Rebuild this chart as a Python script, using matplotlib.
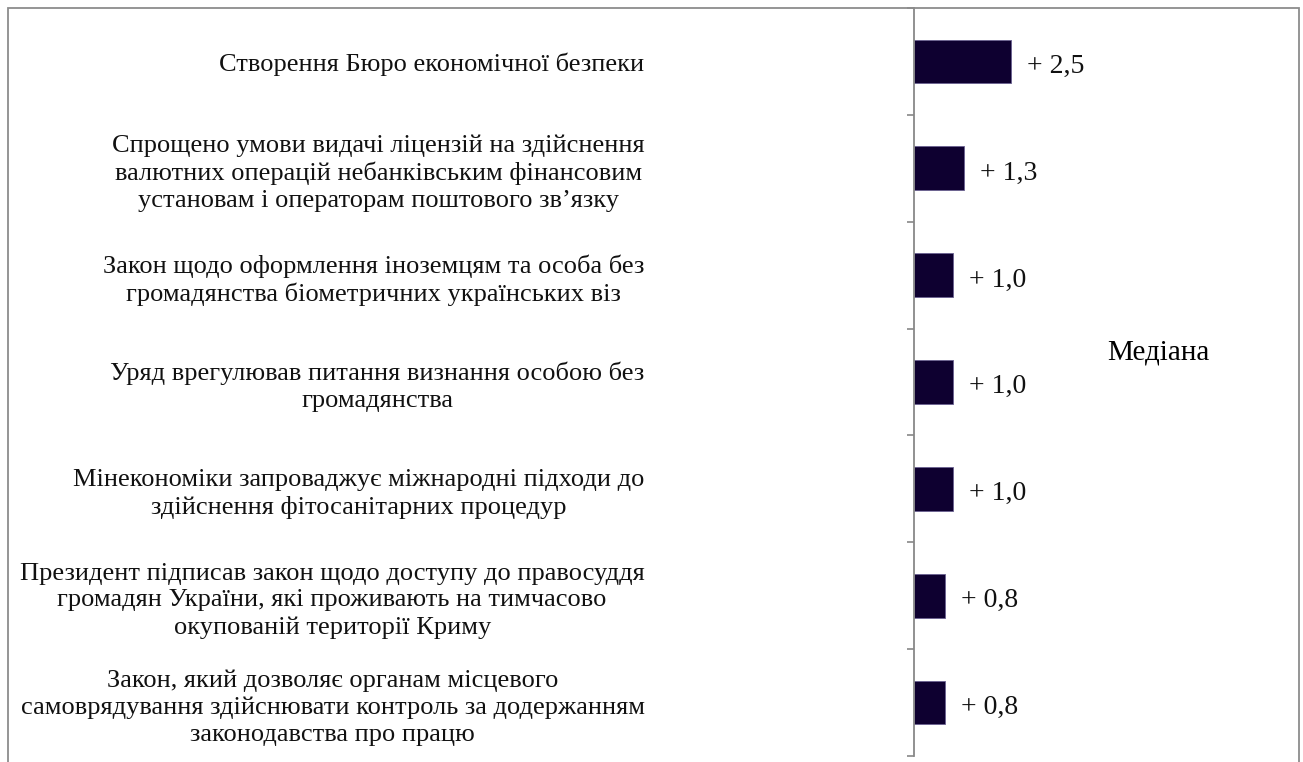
import matplotlib
matplotlib.use("Agg")
import matplotlib.pyplot as plt
from matplotlib.patches import Rectangle
from matplotlib.ticker import FixedLocator
import numpy as np

categories = [
    "Створення Бюро економічної безпеки",
    "Спрощено умови видачі ліцензій на здійснення\nвалютних операцій небанківським фінансовим\nустановам і операторам поштового зв\u2019язку",
    "Закон щодо оформлення іноземцям та особа без\nгромадянства біометричних українських віз",
    "Уряд врегулював питання визнання особою без\nгромадянства",
    "Мінекономіки запроваджує міжнародні підходи до\nздійснення фітосанітарних процедур",
    "Президент підписав закон щодо доступу до правосуддя\nгромадян України, які проживають на тимчасово\nокупованій території Криму",
    "Закон, який дозволяє органам місцевого\nсамоврядування здійснювати контроль за додержанням\nзаконодавства про працю",
]
values = [2.5, 1.3, 1.0, 1.0, 1.0, 0.8, 0.8]
value_labels = ["+ 2,5", "+ 1,3", "+ 1,0", "+ 1,0", "+ 1,0", "+ 0,8", "+ 0,8"]
series_name = "Медіана"

plt.rcParams['font.family'] = ['Liberation Serif', 'DejaVu Serif']

W, H = 1303, 762
fig = plt.figure(figsize=(W / 100, H / 100), dpi=100)
ax = fig.add_axes([914 / W, 1 - 756 / H, (1299 - 914) / W, (756 - 8) / H])

n = len(categories)
y = np.arange(n)
bars = ax.barh(y, values, height=0.41, color="#0e0030", edgecolor="#6a6090",
               linewidth=0.6, label=series_name)
ax.set_ylim(n - 0.5, -0.5)
ax.set_xlim(0, 9.92)

for yi, v, lab in zip(y, values, value_labels):
    ax.annotate(lab, (v, yi), xytext=(11.5, -3.5), textcoords="offset points",
                va="center", ha="left", fontsize=20, color="#111111")

ax.set_yticks(y)
ax.set_yticklabels(categories, fontsize=19, multialignment="center",
                   color="#111111", linespacing=1.28)
ax.tick_params(axis="y", which="major", length=0, pad=194)
ax.yaxis.set_minor_locator(FixedLocator(np.arange(-0.5, n, 1.0)))
ax.tick_params(axis="y", which="minor", length=5, width=1.2, color="#888888", direction="out")
ax.set_xticks([])

for s in ["top", "right", "bottom"]:
    ax.spines[s].set_visible(False)
ax.spines["left"].set_color("#888888")
ax.spines["left"].set_linewidth(1.3)

leg = ax.legend(loc="center", bbox_to_anchor=(0.636, 0.54), frameon=False,
                fontsize=21, handlelength=0, handletextpad=0)
for h in leg.legend_handles:
    h.set_visible(False)

fig.patches.append(Rectangle((8 / W, -0.1), (1299 - 8) / W, 1.1 - 8 / H,
                             transform=fig.transFigure, fill=False,
                             edgecolor="#8c8c8c", linewidth=1.3))

fig.savefig("out.png", dpi=100)
